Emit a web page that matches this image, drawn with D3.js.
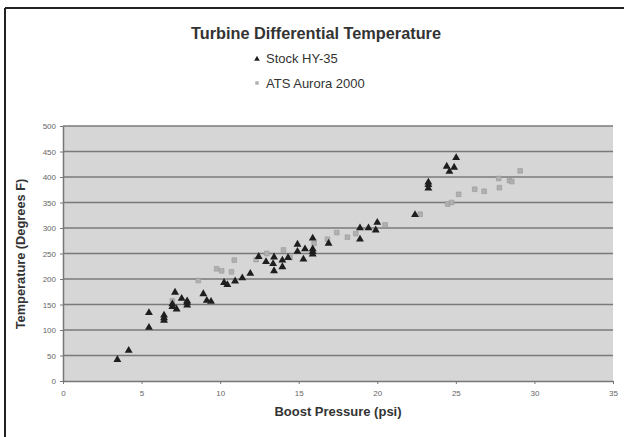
<!DOCTYPE html>
<html><head><meta charset="utf-8">
<script src="https://cdn.jsdelivr.net/npm/d3@7"></script>
<style>body{margin:0;background:#fff}svg{display:block}</style>
</head><body>
<svg id="c" width="624" height="437"></svg>
<script>
const stockHY35 = [[3.46,43],[4.18,61],[5.47,106],[5.47,135],[6.43,120],[6.43,125],[6.43,130],[7.13,175],[7.55,163],[6.96,147],[6.96,152],[7.23,142],[7.9,150],[7.9,155],[7.9,158],[8.93,172],[9.15,159],[9.42,157],[10.25,194],[10.46,190],[10.95,197],[11.41,203],[11.92,212],[12.45,245],[12.92,235],[13.43,244],[13.37,231],[13.43,217],[13.96,238],[13.96,225],[14.32,243],[14.92,269],[14.92,255],[15.4,260],[15.3,240],[15.89,281],[15.89,250],[15.89,255],[15.89,260],[16.9,271],[18.9,301],[19.44,301],[20.0,312],[19.9,297],[18.9,279],[22.4,327],[23.25,379],[23.25,386],[23.25,391],[24.42,422],[24.89,420],[24.59,412],[25.02,439]];
const atsAurora2000 = [[6.96,157],[8.61,197],[9.78,220],[10.1,216],[10.72,214],[10.9,237],[12.29,238],[12.97,250],[14.03,257],[14.45,242],[15.98,270],[16.83,278],[17.42,291],[18.1,282],[18.63,289],[20.5,306],[22.73,327],[24.48,347],[24.73,350],[25.18,366],[26.2,376],[26.8,372],[27.77,379],[27.73,397],[28.41,393],[28.56,391],[29.09,412]];
const xTicks = [0,5,10,15,20,25,30,35];
const yTicks = [0,50,100,150,200,250,300,350,400,450,500];
const seriesNames = ["Stock HY-35","ATS Aurora 2000"];
const title = "Turbine Differential Temperature";
const xTitle = "Boost Pressure (psi)";
const yTitle = "Temperature (Degrees F)";

const svg = d3.select("#c");
const L=63,R=613,T=126,B=381;
const x = d3.scaleLinear().domain([0,35]).range([L,R]);
const y = d3.scaleLinear().domain([0,500]).range([B,T]);

// outer frame (top and left visible)
svg.append("line").attr("x1",5).attr("x2",624).attr("y1",8).attr("y2",8).attr("stroke","#222").attr("stroke-width",2);
svg.append("line").attr("x1",5).attr("x2",5).attr("y1",8).attr("y2",437).attr("stroke","#222").attr("stroke-width",2);

svg.append("rect").attr("x",L).attr("y",T).attr("width",R-L).attr("height",B-T).attr("fill","#d6d6d6");

svg.append("g").selectAll("line").data(yTicks.filter(d=>d>0)).join("line")
  .attr("x1",L).attr("x2",R).attr("y1",d=>y(d)).attr("y2",d=>y(d))
  .attr("stroke","#7a7a7a").attr("stroke-width",1.5);

const xa = svg.append("g").attr("transform",`translate(0,${B})`)
  .call(d3.axisBottom(x).tickValues(xTicks).tickSize(3).tickSizeOuter(0).tickPadding(6));
const ya = svg.append("g").attr("transform",`translate(${L},0)`)
  .call(d3.axisLeft(y).tickValues(yTicks).tickSize(3).tickSizeOuter(0).tickPadding(4));
[xa,ya].forEach(a=>{
  a.select(".domain").attr("stroke","#777").attr("stroke-width",1.5);
  a.selectAll(".tick line").attr("stroke","#777");
  a.selectAll("text").attr("fill","#666").attr("font-family","Liberation Sans, Arial, sans-serif").attr("font-size",8);
});

const tri = d3.symbol().type(d3.symbolTriangle).size(27);
const sq = d3.symbol().type(d3.symbolSquare).size(22);

svg.append("g").selectAll("path").data(atsAurora2000).join("path")
  .attr("d",sq).attr("transform",d=>`translate(${x(d[0])},${y(d[1])})`)
  .attr("fill","#b0b0b0").attr("stroke","#999").attr("stroke-width",0.6);
svg.append("g").selectAll("path").data(stockHY35).join("path")
  .attr("d",tri).attr("transform",d=>`translate(${x(d[0])},${y(d[1])+0.6})`)
  .attr("fill","#1e1e1e");

const ff = "Liberation Sans, Arial, sans-serif";
svg.append("text").attr("x",316).attr("y",39).attr("text-anchor","middle")
  .attr("font-family",ff).attr("font-weight","bold").attr("font-size",16.3).attr("fill","#333").text(title);

const lg = svg.append("g");
lg.append("path").attr("d",d3.symbol().type(d3.symbolTriangle).size(14)).attr("transform","translate(257,59)").attr("fill","#1e1e1e");
lg.append("text").attr("x",266).attr("y",63).attr("font-family",ff).attr("font-size",13).attr("fill","#333").text(seriesNames[0]);
lg.append("path").attr("d",d3.symbol().type(d3.symbolSquare).size(12)).attr("transform","translate(257,83)").attr("fill","#b0b0b0");
lg.append("text").attr("x",266).attr("y",88).attr("font-family",ff).attr("font-size",13).attr("fill","#333").text(seriesNames[1]);

svg.append("text").attr("x",338).attr("y",416).attr("text-anchor","middle")
  .attr("font-family",ff).attr("font-weight","bold").attr("font-size",13).attr("fill","#333").text(xTitle);
svg.append("text").attr("transform","translate(25,254) rotate(-90)").attr("text-anchor","middle")
  .attr("font-family",ff).attr("font-weight","bold").attr("font-size",12.8).attr("fill","#333").text(yTitle);
</script>
</body></html>
